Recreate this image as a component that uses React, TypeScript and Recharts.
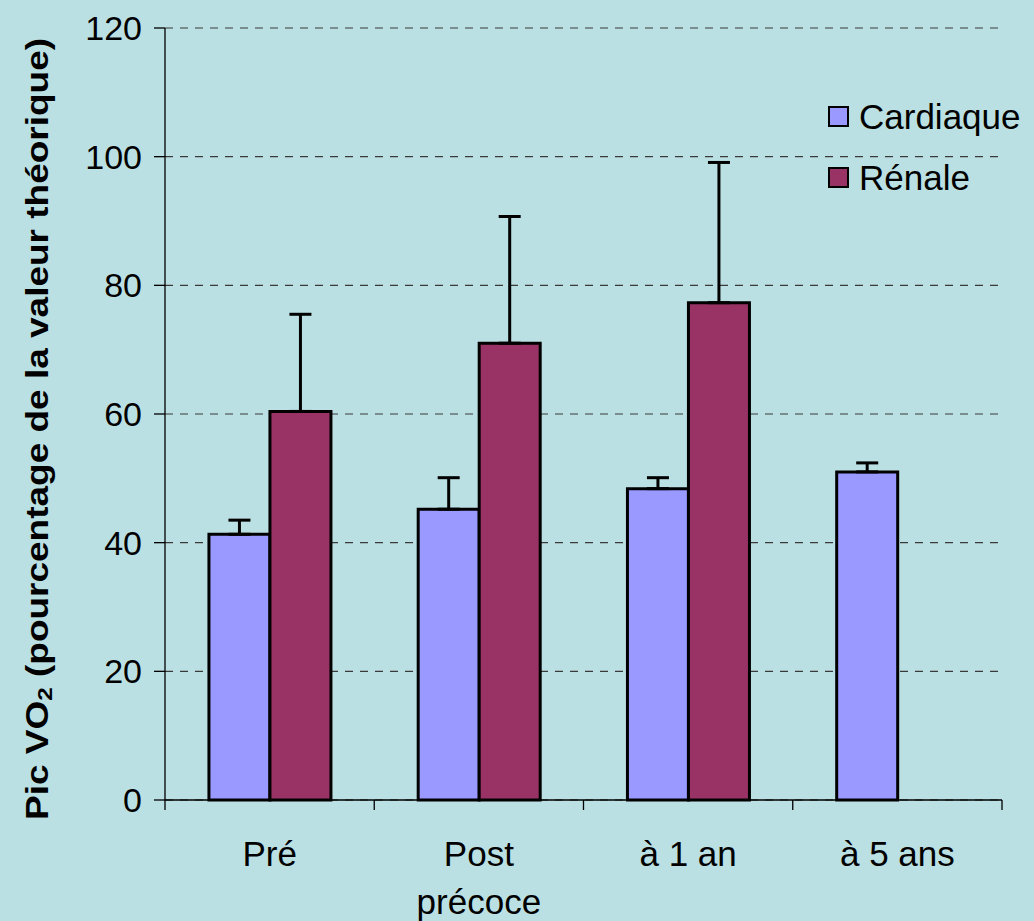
import React from "react";
import { BarChart, Bar, XAxis, YAxis, CartesianGrid, ErrorBar, Label } from "recharts";

const categories = ["Pré", "Post\nprécoce", "à 1 an", "à 5 ans"];
const cardiaque = [41.3, 45.2, 48.4, 51.0];
const cardiaqueErr = [2.2, 4.9, 1.7, 1.4];
const renale = [60.4, 71.0, 77.3, null];
const renaleErr = [15.1, 19.7, 21.8, null];
const yTicks = [0, 20, 40, 60, 80, 100, 120];

const data = categories.map((name, i) => ({
  name,
  cardiaque: cardiaque[i],
  cardiaqueErr: [0, cardiaqueErr[i]],
  renale: renale[i],
  renaleErr: renaleErr[i] == null ? null : [0, renaleErr[i]],
}));

const W = 1034;
const H = 921;
const M = { top: 28, right: 32, left: 0, bottom: 0 };
const Y_W = 165;
const X_H = 121;
const PLOT_W = W - M.left - M.right - Y_W;
const HALF_BAND = PLOT_W / categories.length / 2;

const FONT = "'Liberation Sans', Arial, sans-serif";
const BG = "#bbe0e3";
const C1 = "#9999ff";
const C2 = "#993366";

function XTick(props: any) {
  const { x, y, payload, index } = props;
  const lines = String(payload.value).split("\n");
  return (
    <g>
      <line x1={x - HALF_BAND} y1={y - 10} x2={x - HALF_BAND} y2={y} stroke="#000" strokeWidth={1.3} />
      {index === categories.length - 1 && (
        <line x1={x + HALF_BAND} y1={y - 10} x2={x + HALF_BAND} y2={y} stroke="#000" strokeWidth={1.3} />
      )}
      <text x={x} y={y + 56} textAnchor="middle" fontSize={35} fontFamily={FONT} fill="#000">
        {lines.map((l, i) => (
          <tspan key={i} x={x} dy={i === 0 ? 0 : 48}>
            {l}
          </tspan>
        ))}
      </text>
    </g>
  );
}

function YLabel() {
  return (
    <text
      x={37}
      y={429}
      transform="rotate(-90, 37, 429)"
      textAnchor="middle"
      dominantBaseline="central"
      fontSize={32}
      fontWeight="bold"
      fontFamily={FONT}
      fill="#000"
      textLength={782}
      lengthAdjust="spacingAndGlyphs"
    >
      Pic VO
      <tspan fontSize={21} dy={7}>2</tspan>
      <tspan dy={-7}> (pourcentage de la valeur théorique)</tspan>
    </text>
  );
}

const legendItems = [
  { label: "Cardiaque", color: C1 },
  { label: "Rénale", color: C2 },
];

function LegendBox() {
  return (
    <div
      style={{
        position: "absolute",
        left: 828,
        top: 86,
        fontFamily: FONT,
        fontSize: 35,
        color: "#000",
      }}
    >
      {legendItems.map((it) => (
        <div key={it.label} style={{ display: "flex", alignItems: "center", height: 61 }}>
          <span
            style={{
              display: "inline-block",
              width: 17,
              height: 17,
              background: it.color,
              border: "2.5px solid #000",
              marginRight: 10,
            }}
          />
          <span>{it.label}</span>
        </div>
      ))}
    </div>
  );
}

export default function App() {
  return (
    <div style={{ position: "absolute", left: 0, top: 0, width: W, height: H, background: BG }}>
      <BarChart width={W} height={H} data={data} margin={M} barCategoryGap="21%" barGap={0}>
        <CartesianGrid vertical={false} stroke="#3a3a3a" strokeWidth={1.2} strokeDasharray="8 7" />
        <XAxis
          dataKey="name"
          height={X_H}
          interval={0}
          stroke="#000"
          strokeWidth={1.3}
          tickLine={false}
          tickSize={10}
          tickMargin={0}
          tick={<XTick />}
        />
        <YAxis
          width={Y_W}
          domain={[0, 120]}
          ticks={yTicks}
          stroke="#000"
          strokeWidth={1.3}
          tickSize={11}
          tickMargin={12}
          tick={{ fill: "#000", fontSize: 34, fontFamily: FONT }}
        >
          <Label content={<YLabel />} />
        </YAxis>
        <Bar dataKey="cardiaque" name="Cardiaque" fill={C1} stroke="#000" strokeWidth={3} isAnimationActive={false}>
          <ErrorBar dataKey="cardiaqueErr" width={11} stroke="#000" strokeWidth={3} />
        </Bar>
        <Bar dataKey="renale" name="Rénale" fill={C2} stroke="#000" strokeWidth={3} isAnimationActive={false}>
          <ErrorBar dataKey="renaleErr" width={11} stroke="#000" strokeWidth={3} />
        </Bar>
      </BarChart>
      <LegendBox />
    </div>
  );
}
